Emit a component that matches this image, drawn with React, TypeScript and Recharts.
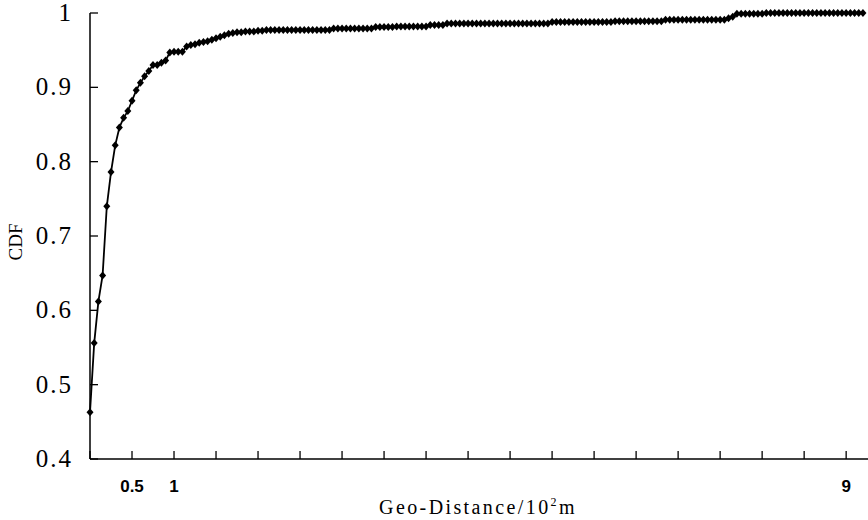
import { Label, Line, LineChart, XAxis, YAxis } from "recharts";

// CDF, one value per 0.05 step of geo-distance (x 10^2 m)
const cdf = [
  0.463, 0.556, 0.612, 0.647, 0.74, 0.786, 0.822, 0.846, 0.859, 0.868,
  0.882, 0.896, 0.906, 0.915, 0.922, 0.93, 0.93, 0.933, 0.936, 0.947,
  0.948, 0.948, 0.948, 0.955, 0.957, 0.958, 0.96, 0.961, 0.962, 0.964,
  0.966, 0.968, 0.97, 0.972, 0.973, 0.974, 0.974, 0.975, 0.975, 0.975,
  0.976, 0.976, 0.977, 0.977, 0.977, 0.977, 0.977, 0.977, 0.977, 0.977,
  0.977, 0.977, 0.977, 0.977, 0.977, 0.977, 0.977, 0.977, 0.979, 0.979,
  0.979, 0.979, 0.979, 0.979, 0.979, 0.979, 0.979, 0.979, 0.981, 0.981,
  0.981, 0.981, 0.981, 0.982, 0.982, 0.982, 0.982, 0.982, 0.982, 0.982,
  0.982, 0.984, 0.984, 0.984, 0.984, 0.986, 0.986, 0.986, 0.986, 0.986,
  0.986, 0.986, 0.986, 0.986, 0.986, 0.986, 0.986, 0.986, 0.986, 0.986,
  0.986, 0.986, 0.986, 0.986, 0.986, 0.986, 0.986, 0.986, 0.986, 0.986,
  0.988, 0.988, 0.988, 0.988, 0.988, 0.988, 0.988, 0.988, 0.988, 0.988,
  0.988, 0.988, 0.988, 0.988, 0.988, 0.989, 0.989, 0.989, 0.989, 0.989,
  0.989, 0.989, 0.989, 0.989, 0.989, 0.989, 0.989, 0.991, 0.991, 0.991,
  0.991, 0.991, 0.991, 0.991, 0.991, 0.991, 0.991, 0.991, 0.991, 0.991,
  0.991, 0.991, 0.993, 0.995, 0.999, 0.999, 0.999, 0.999, 0.999, 0.999,
  0.999, 1, 1, 1, 1, 1, 1, 1, 1, 1,
  1, 1, 1, 1, 1, 1, 1, 1, 1, 1,
  1, 1, 1, 1, 1,
];
const STEP = 0.05;

const xTicks = [0, 0.5, 1, 1.5, 2, 2.5, 3, 3.5, 4, 4.5, 5, 5.5, 6, 6.5, 7, 7.5, 8, 8.5, 9];
const xTickLabels: Record<number, string> = { 0.5: "0.5", 1: "1", 9: "9" };
const yTicks = [0.4, 0.5, 0.6, 0.7, 0.8, 0.9, 1];
const yTickLabels = ["0.4", "0.5", "0.6", "0.7", "0.8", "0.9", "1"];

const data = cdf.map((v, i) => ({ d: +(i * STEP).toFixed(2), cdf: v }));

const serif = "'Liberation Serif', 'DejaVu Serif', serif";

const Diamond = (props: any) => {
  const { cx, cy } = props;
  if (cx == null || cy == null) return null;
  return (
    <path
      key={`dot-${cx}-${cy}`}
      d={`M${cx},${cy - 4}L${cx + 3.5},${cy}L${cx},${cy + 4}L${cx - 3.5},${cy}Z`}
      fill="#000"
    />
  );
};

const XTick = ({ x, y, payload }: any) => (
  <g>
    <line x1={x} x2={x} y1={y} y2={y - 8} stroke="#000" strokeWidth={1.3} />
    {xTickLabels[payload.value] && (
      <text
        x={x}
        y={y + 33}
        textAnchor="middle"
        fontFamily="'Liberation Sans', Arial, sans-serif"
        fontWeight="bold"
        fontSize={17}
        fill="#000"
      >
        {xTickLabels[payload.value]}
      </text>
    )}
  </g>
);

const YTick = ({ x, y, payload }: any) => {
  const idx = yTicks.findIndex((t) => Math.abs(t - payload.value) < 1e-6);
  return (
    <g>
      <line x1={x} x2={x + 8} y1={y} y2={y} stroke="#000" strokeWidth={1.3} />
      <text
        x={x - 17}
        y={y + 8}
        textAnchor="end"
        fontFamily={serif}
        fontSize={25}
        letterSpacing={2}
        fill="#000"
      >
        {yTickLabels[idx]}
      </text>
    </g>
  );
};

const App = () => (
  <div style={{ position: "absolute", left: 0, top: 0, background: "#fff" }}>
    <LineChart
      width={868}
      height={520}
      data={data}
      margin={{ top: 13, right: 0, bottom: 0, left: 0 }}
    >
      <XAxis
        type="number"
        dataKey="d"
        domain={[0, 9.26]}
        ticks={xTicks}
        interval={0}
        height={61}
        tickSize={0}
        tickMargin={0}
        tickLine={false}
        axisLine={{ stroke: "#000", strokeWidth: 1.5 }}
        tick={<XTick />}
      >
        <Label
          content={() => (
            <text
              x={478}
              y={514}
              textAnchor="middle"
              fontFamily={serif}
              fontSize={20}
              letterSpacing={2.4}
              fill="#000"
            >
              Geo-Distance/10
              <tspan dy={-8} fontSize={12}>
                2
              </tspan>
              <tspan dy={8}>m</tspan>
            </text>
          )}
        />
      </XAxis>
      <YAxis
        type="number"
        domain={[0.4, 1]}
        ticks={yTicks}
        interval={0}
        width={90}
        tickSize={0}
        tickMargin={0}
        tickLine={false}
        axisLine={{ stroke: "#000", strokeWidth: 1.5 }}
        tick={<YTick />}
      >
        <Label
          content={() => (
            <text
              x={15}
              y={242}
              transform="rotate(-90 15 242)"
              textAnchor="middle"
              dominantBaseline="central"
              fontFamily={serif}
              fontSize={19}
              fill="#000"
            >
              CDF
            </text>
          )}
        />
      </YAxis>
      <Line
        type="linear"
        dataKey="cdf"
        stroke="#000"
        strokeWidth={1.8}
        dot={Diamond}
        activeDot={false}
        isAnimationActive={false}
      />
    </LineChart>
  </div>
);

export default App;
